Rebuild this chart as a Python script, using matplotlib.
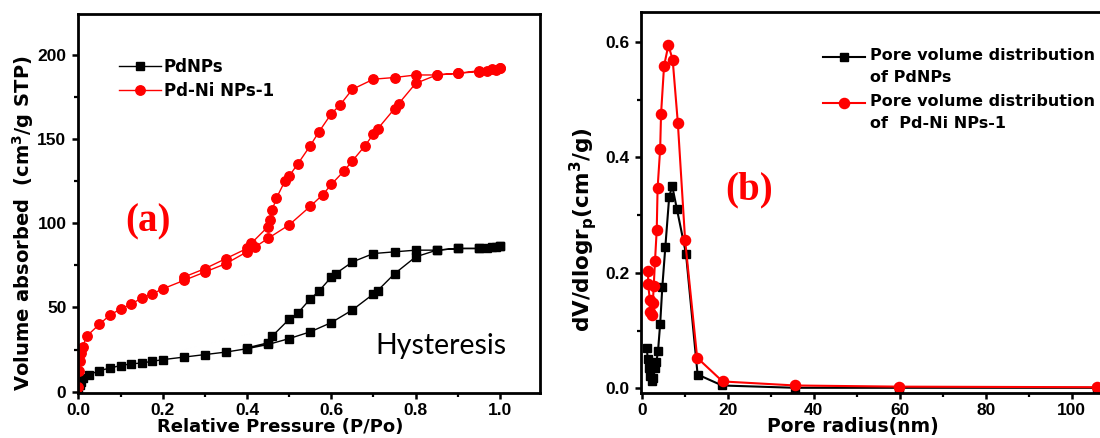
import matplotlib

matplotlib.use("Agg")
import matplotlib.pyplot as plt
import numpy as np
from matplotlib.legend_handler import HandlerLine2D
from matplotlib.lines import Line2D
from matplotlib.ticker import MultipleLocator

plt.rcParams["font.family"] = ["Liberation Sans", "DejaVu Sans"]
plt.rcParams["font.weight"] = "bold"
plt.rcParams["mathtext.default"] = "regular"

# (a) N2 isotherms: adsorption branch up to P/Po = 1, desorption branch back down
pd_ads_p = [0.0, 0.003, 0.007, 0.012, 0.025, 0.05, 0.075, 0.1, 0.125, 0.15, 0.175, 0.2,
            0.25, 0.3, 0.35, 0.4, 0.45, 0.5, 0.55, 0.6, 0.65, 0.7, 0.71, 0.75, 0.8,
            0.85, 0.9, 0.95, 0.97, 0.99, 1.0]
pd_ads_v = [1, 4, 6, 8, 10, 12.5, 14, 15.5, 16.5, 17, 18, 19,
            20.5, 22, 23.5, 25.5, 28, 31.5, 35.5, 41, 48.5, 58, 60, 70, 80,
            84, 85, 85, 85.5, 86, 86.5]
pd_des_p = [1.0, 0.98, 0.95, 0.9, 0.85, 0.8, 0.75, 0.7, 0.65, 0.61, 0.6, 0.57, 0.55,
            0.52, 0.5, 0.46, 0.45, 0.4]
pd_des_v = [86.5, 86, 85, 85, 84, 84, 83, 82, 77, 70, 68, 59.5, 55,
            46.5, 43, 33, 29, 26]

pdni_ads_p = [0.0, 0.002, 0.004, 0.007, 0.01, 0.02, 0.05, 0.075, 0.1, 0.125, 0.15, 0.175,
              0.2, 0.25, 0.3, 0.35, 0.4, 0.42, 0.45, 0.5, 0.55, 0.58, 0.6, 0.63, 0.65,
              0.68, 0.7, 0.71, 0.75, 0.76, 0.8, 0.85, 0.9, 0.95, 0.97, 0.99, 1.0]
pdni_ads_v = [3, 12, 18, 23, 26.5, 33, 40, 45.5, 49, 52, 55.5, 58,
              61, 66, 71, 76, 83, 86, 91, 99, 110, 117, 123, 131, 137,
              146, 153, 156, 168, 171, 183, 188, 189, 190, 190.5, 191, 192]
pdni_des_p = [1.0, 0.98, 0.95, 0.9, 0.85, 0.8, 0.75, 0.7, 0.65, 0.62, 0.6, 0.57, 0.55,
              0.52, 0.5, 0.49, 0.47, 0.46, 0.455, 0.45, 0.41, 0.4, 0.35, 0.3, 0.25]
pdni_des_v = [192, 191.5, 190.5, 189, 188, 188, 186.5, 185.5, 179.5, 170, 165, 154, 146,
              135, 128, 125, 115, 108, 102, 98, 88, 85, 79, 73, 68]

# (b) pore size distributions
pd_r = [1.2, 1.4, 1.7, 2.0, 2.3, 2.6, 3.0, 3.4, 3.8, 4.3, 4.8, 5.5, 6.4, 7.1, 8.2,
        10.3, 13.0, 18.7, 35.7, 59.8, 105.8]
pd_dv = [0.07, 0.05, 0.035, 0.022, 0.012, 0.018, 0.035, 0.045, 0.065, 0.112, 0.176,
         0.245, 0.332, 0.35, 0.31, 0.233, 0.024, 0.005, 0.001, 0.001, 0.001]
pdni_r = [1.5, 1.5, 1.9, 2.0, 2.3, 2.6, 2.8, 3.1, 3.5, 3.7, 4.3, 4.5, 5.2, 6.2, 7.2,
          8.4, 10.1, 12.9, 18.8, 35.7, 59.8, 105.8]
pdni_dv = [0.204, 0.18, 0.153, 0.133, 0.127, 0.148, 0.178, 0.221, 0.275, 0.347, 0.415,
           0.475, 0.558, 0.594, 0.569, 0.46, 0.256, 0.053, 0.012, 0.005, 0.003, 0.002]

RED = "#ff0000"
BLACK = "#000000"
LABEL_FONT = ["DejaVu Sans"]
SERIF_FONT = ["Liberation Serif", "DejaVu Serif"]


class TopLineHandler(HandlerLine2D):
    """Line handle aligned with the first line of a two-line label."""

    def create_artists(self, legend, orig_handle, xdescent, ydescent, width, height,
                       fontsize, trans):
        artists = super().create_artists(legend, orig_handle, xdescent, ydescent,
                                         width, height, fontsize, trans)
        for a in artists:
            a.set_ydata(np.asarray(a.get_ydata()) + 0.6 * fontsize)
        return artists


def style_axes(ax):
    for sp in ax.spines.values():
        sp.set_linewidth(2.0)
    ax.tick_params(which="major", direction="out", length=4.5, width=1.8,
                   labelsize=12.5, top=False, right=False)
    ax.tick_params(which="minor", direction="out", length=3.0, width=1.6,
                   top=False, right=False)
    ax.tick_params(axis="x", which="major", pad=2.5)
    ax.tick_params(axis="y", which="major", pad=3.5)


fig = plt.figure(figsize=(11, 4.38), dpi=100)
ax1 = fig.add_axes([77.5 / 1100, 45 / 438, 462.5 / 1100, 379 / 438])
ax2 = fig.add_axes([641 / 1100, 45 / 438, 482 / 1100, 381.3 / 438])

# ---- (a) isotherms
ax1.plot(pd_ads_p + pd_des_p, pd_ads_v + pd_des_v, color=BLACK, lw=1.0,
         marker="s", ms=5.5, label="PdNPs")
ax1.plot(pdni_ads_p + pdni_des_p, pdni_ads_v + pdni_des_v, color=RED, lw=1.0,
         marker="o", ms=6.8, label="Pd-Ni NPs-1")
ax1.set_xlim(-0.002, 1.095)
ax1.set_ylim(-0.8, 224.2)
ax1.xaxis.set_minor_locator(MultipleLocator(0.1))
ax1.yaxis.set_major_locator(MultipleLocator(50))
ax1.yaxis.set_minor_locator(MultipleLocator(25))
ax1.set_xticks([0, 0.2, 0.4, 0.6, 0.8, 1.0], ["0.0", "0.2", "0.4", "0.6", "0.8", "1.0"])
style_axes(ax1)
ax1.set_xlabel("Relative Pressure (P/Po)", fontsize=13, fontweight="bold",
               family=LABEL_FONT)
ax1.set_ylabel("Volume absorbed  (cm$^3$/g STP)", fontsize=14, fontweight="bold",
               family=LABEL_FONT)
ax1.xaxis.set_label_coords(0.439, -0.066)
ax1.yaxis.set_label_coords(-0.09, 0.447)
ax1.legend(loc="upper left", bbox_to_anchor=(0.0895, 0.884), frameon=False,
           prop={"family": LABEL_FONT, "weight": "bold", "size": 12},
           handlelength=2.5, handletextpad=0.2, borderpad=0,
           borderaxespad=0, labelspacing=0.35)
ax1.text(0.166, 101, "(a)", color=RED, fontsize=28, fontweight="bold",
         family=SERIF_FONT, ha="center", va="center")
ax1.text(0.86, 27, "Hysteresis", color=BLACK, fontsize=20.5, fontweight="normal",
         family=["Lato", "DejaVu Sans"], ha="center", va="center")

# ---- (b) pore volume distribution
ax2.plot(pd_r, pd_dv, color=BLACK, lw=1.5, marker="s", ms=6,
         label="Pore volume distribution\nof PdNPs")
ax2.plot(pdni_r, pdni_dv, color=RED, lw=1.5, marker="o", ms=7.3,
         label="Pore volume distribution\nof  Pd-Ni NPs-1")
ax2.set_xlim(-0.16, 111.9)
ax2.set_ylim(-0.008, 0.652)
ax2.xaxis.set_major_locator(MultipleLocator(20))
ax2.xaxis.set_minor_locator(MultipleLocator(10))
ax2.yaxis.set_minor_locator(MultipleLocator(0.1))
ax2.set_yticks([0, 0.2, 0.4, 0.6], ["0.0", "0.2", "0.4", "0.6"])
style_axes(ax2)
ax2.set_xlabel("Pore radius(nm)", fontsize=13.5, fontweight="bold", family=LABEL_FONT)
ax2.set_ylabel("dV/dlogr$_p$(cm$^3$/g)", fontsize=15.5, fontweight="bold",
               family=LABEL_FONT)
ax2.xaxis.set_label_coords(0.44, -0.062)
ax2.yaxis.set_label_coords(-0.087, 0.429)
leg2 = ax2.legend(loc="upper left", bbox_to_anchor=(0.378, 0.905), frameon=False,
                  prop={"family": LABEL_FONT, "weight": "bold", "size": 11.5},
                  handlelength=2.6, handletextpad=0.3, borderpad=0,
                  borderaxespad=0, labelspacing=0.55,
                  handler_map={Line2D: TopLineHandler()})
for t in leg2.get_texts():
    t.set_linespacing(1.6)
ax2.text(24.9, 0.343, "(b)", color=RED, fontsize=28, fontweight="bold",
         family=SERIF_FONT, ha="center", va="center")

fig.savefig("out.png", dpi=100, facecolor="white")
